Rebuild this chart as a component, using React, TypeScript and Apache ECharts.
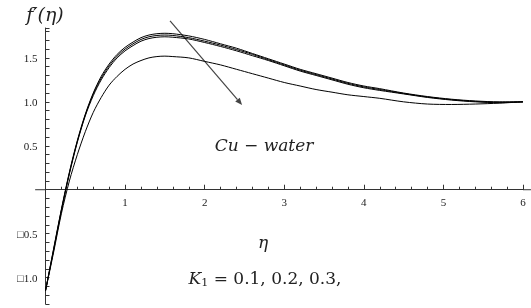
import React, { useEffect, useRef } from "react";
import * as echarts from "echarts";

// η sample points
const etaValues = [0, 0.1, 0.2, 0.3, 0.4, 0.5, 0.6, 0.7, 0.8, 0.9, 1.0, 1.1, 1.2, 1.3, 1.4, 1.5, 1.6, 1.8, 2.0, 2.2, 2.4, 2.6, 2.8, 3.0, 3.2, 3.4, 3.6, 3.8, 4.0, 4.2, 4.5, 4.8, 5.1, 5.4, 5.7, 6.0];

// f'(η) for K1 = 0.1, 0.2, 0.3 (upper three) and the lowest curve
const fpK1a = [-1.15, -0.68, -0.22, 0.2, 0.56, 0.86, 1.1, 1.29, 1.43, 1.54, 1.62, 1.68, 1.73, 1.76, 1.775, 1.78, 1.775, 1.75, 1.71, 1.66, 1.61, 1.55, 1.49, 1.43, 1.37, 1.32, 1.27, 1.22, 1.18, 1.15, 1.1, 1.06, 1.03, 1.01, 1.0, 1.0];
const fpK1b = [-1.15, -0.69, -0.23, 0.19, 0.55, 0.85, 1.09, 1.27, 1.41, 1.52, 1.6, 1.66, 1.71, 1.74, 1.755, 1.76, 1.755, 1.73, 1.69, 1.645, 1.595, 1.54, 1.48, 1.42, 1.36, 1.31, 1.26, 1.21, 1.17, 1.14, 1.095, 1.055, 1.025, 1.005, 0.995, 1.0];
const fpK1c = [-1.15, -0.7, -0.24, 0.18, 0.54, 0.84, 1.07, 1.25, 1.39, 1.5, 1.58, 1.64, 1.69, 1.72, 1.735, 1.74, 1.735, 1.715, 1.675, 1.63, 1.58, 1.525, 1.47, 1.41, 1.35, 1.3, 1.25, 1.2, 1.16, 1.13, 1.09, 1.05, 1.02, 1.0, 0.99, 1.0];
const fpK1d = [-1.15, -0.72, -0.27, 0.1, 0.4, 0.66, 0.88, 1.05, 1.19, 1.29, 1.37, 1.43, 1.47, 1.5, 1.515, 1.52, 1.515, 1.5, 1.46, 1.42, 1.37, 1.32, 1.27, 1.22, 1.18, 1.14, 1.11, 1.08, 1.06, 1.04, 1.0, 0.975, 0.97, 0.975, 0.985, 1.0];

const xTickLabels = ["1", "2", "3", "4", "5", "6"];
const yTickLabels: Record<string, string> = { "-1": "\u25A11.0", "-0.5": "\u25A10.5", "0.5": "0.5", "1": "1.0", "1.5": "1.5" };

// arrow annotation in data units [start, end]
const arrowFrom = [1.565, 1.92];
const arrowTo = [2.47, 0.965];
const xAxisLineExtent = [-0.13, 6.1];

const MATH_FONT = "DejaVu Serif";

const GRID = { left: 45.5, right: 8, top: 28, bottom: 4 };
const Y_MIN = -1.3;
const Y_MAX = 1.84;
const CHART_H = 308;

export default function App() {
  const ref = useRef<HTMLDivElement>(null);
  useEffect(() => {
    if (!ref.current) return;
    const chart = echarts.init(ref.current, undefined, { renderer: "svg" });
    const mk = (ys: number[]) => etaValues.map((x, i) => [x, ys[i]]);
    const lineSeries = (ys: number[]) => ({
      type: "line",
      data: mk(ys),
      smooth: 0.3,
      showSymbol: false,
      symbol: "none",
      lineStyle: { color: "#000", width: 1 },
      clip: false,
    });
    const gridH = CHART_H - GRID.top - GRID.bottom;
    const zeroFromBottom = (0 - Y_MIN) / (Y_MAX - Y_MIN) * gridH;
    chart.setOption({
      animation: false,
      grid: { ...GRID, outerBoundsMode: "none", containLabel: false },
      xAxis: {
        type: "value",
        min: 0,
        max: 6,
        interval: 1,
        offset: -zeroFromBottom,
        axisLine: { onZero: false, lineStyle: { color: "#333", width: 1 } },
        axisTick: { show: true, inside: true, length: 5, lineStyle: { color: "#333" } },
        minorTick: { show: true, splitNumber: 5, length: 3, lineStyle: { color: "#333" } },
        splitLine: { show: false },
        axisLabel: {
          margin: 7,
          fontFamily: "Liberation Serif",
          fontSize: 11,
          color: "#222",
          formatter: (v: number) => (v >= 1 ? xTickLabels[Math.round(v) - 1] ?? "" : ""),
        },
      },
      yAxis: {
        type: "value",
        min: Y_MIN,
        max: Y_MAX,
        interval: 0.1,
        axisLine: { onZero: false, lineStyle: { color: "#333", width: 1 } },
        axisTick: { show: true, inside: true, length: 4, lineStyle: { color: "#333" } },
        splitLine: { show: false },
        axisLabel: {
          margin: 8,
          fontFamily: "Liberation Serif",
          fontSize: 11,
          color: "#222",
          formatter: (v: number) => {
            const key = String(Math.round(v * 10) / 10);
            return yTickLabels[key] ?? "";
          },
        },
      },
      series: [lineSeries(fpK1a), lineSeries(fpK1b), lineSeries(fpK1c), lineSeries(fpK1d)],
    });

    const p = (pt: number[]) => chart.convertToPixel({ gridIndex: 0 }, pt) as number[];
    const a0 = p(arrowFrom);
    const a1 = p(arrowTo);
    const ang = Math.atan2(a1[1] - a0[1], a1[0] - a0[0]);
    const hl = 7, hw = 3;
    const bx = a1[0] - hl * Math.cos(ang), by = a1[1] - hl * Math.sin(ang);
    const head = [
      [a1[0], a1[1]],
      [bx + hw * Math.sin(ang), by - hw * Math.cos(ang)],
      [bx - hw * Math.sin(ang), by + hw * Math.cos(ang)],
    ];
    const xl0 = p([xAxisLineExtent[0], 0]);
    const xz = p([0, 0]);
    const x6 = p([6, 0]);
    const xl1 = p([xAxisLineExtent[1], 0]);

    chart.setOption({
      graphic: [
        { type: "line", shape: { x1: xl0[0], y1: xl0[1], x2: xz[0], y2: xz[1] }, style: { stroke: "#333", lineWidth: 1 } },
        { type: "line", shape: { x1: x6[0], y1: x6[1], x2: xl1[0], y2: xl1[1] }, style: { stroke: "#333", lineWidth: 1 } },
        { type: "line", shape: { x1: a0[0], y1: a0[1], x2: bx, y2: by }, style: { stroke: "#444", lineWidth: 1.2 } },
        { type: "polygon", shape: { points: head }, style: { fill: "#444" } },
        {
          type: "text",
          x: 45,
          y: 14,
          style: { text: "f\u2032(\u03B7)", font: `italic 19px '${MATH_FONT}'`, fill: "#222", align: "center", verticalAlign: "middle" },
        },
        {
          type: "text",
          x: 264,
          y: 145,
          style: { text: "Cu \u2212 water", font: `italic 17px '${MATH_FONT}'`, fill: "#222", align: "center", verticalAlign: "middle" },
        },
        {
          type: "text",
          x: 263,
          y: 242,
          style: { text: "\u03B7", font: `italic 17px '${MATH_FONT}'`, fill: "#222", align: "center", verticalAlign: "middle" },
        },
        {
          type: "text",
          x: 265,
          y: 278,
          style: {
            text: "{k|K}{s|1}{t| = 0.1, 0.2, 0.3,}",
            align: "center",
            verticalAlign: "middle",
            rich: {
              k: { fontFamily: MATH_FONT, fontStyle: "italic", fontSize: 17, fill: "#222" },
              s: { fontFamily: MATH_FONT, fontSize: 11, fill: "#222", padding: [8, 0, 0, 0] },
              t: { fontFamily: MATH_FONT, fontSize: 17, fill: "#222" },
            },
          },
        },
      ],
    });
    return () => chart.dispose();
  }, []);
  return <div ref={ref} style={{ position: "fixed", left: 0, top: 0, width: 531, height: 308 }} />;
}
